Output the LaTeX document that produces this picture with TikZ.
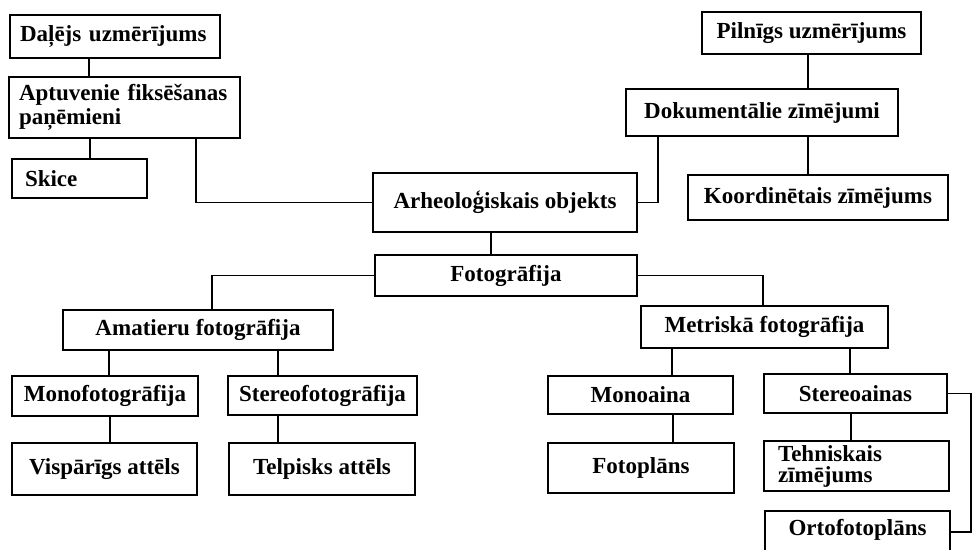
\documentclass[tikz,border=0pt]{standalone}
\usepackage{fontspec}
\setmainfont{Liberation Serif}
\begin{document}
\begin{tikzpicture}[x=1pt,y=-1pt,
  box/.style={draw, line width=1.6pt, inner sep=0pt, align=center,
    font=\bfseries\fontsize{23}{25}\selectfont},
  conn/.style={line width=1.1pt}]
\useasboundingbox (0,0) rectangle (973,549);
\clip (0,0) rectangle (973,549);
% left upper group
\node[box, minimum width=210pt, minimum height=43pt, text width=190pt, align=left] (dalejs) at (115,36.5) {Daļējs uzmērījums};
\node[box, minimum width=231pt, minimum height=61pt, text width=211pt, align=left,
  font=\bfseries\fontsize{23}{23.5}\selectfont] (aptuv) at (124.5,107.5) {Aptuvenie fiksēšanas\\paņēmieni};
\node[box, minimum width=135pt, minimum height=39pt, text width=109pt, align=left] (skice) at (79.5,178.5) {Skice};
% centre
\node[box, minimum width=264pt, minimum height=59pt] (arheo) at (505,202.5) {Arheoloģiskais objekts};
\node[box, minimum width=262pt, minimum height=41pt] (foto) at (506,275.5) {Fotogrāfija};
% right upper group
\node[box, minimum width=219pt, minimum height=42pt] (pilnigs) at (811.5,33) {Pilnīgs uzmērījums};
\node[box, minimum width=272pt, minimum height=47pt] (dokum) at (762,112.5) {Dokumentālie zīmējumi};
\node[box, minimum width=260pt, minimum height=45pt] (koord) at (818,197.5) {Koordinētais zīmējums};
% amateur branch
\node[box, minimum width=270pt, minimum height=40pt] (amat) at (198,330) {Amatieru fotogrāfija};
\node[box, minimum width=186pt, minimum height=40pt] (monofoto) at (105,396) {Monofotogrāfija};
\node[box, minimum width=189pt, minimum height=39pt] (stereofoto) at (322.5,395.5) {Stereofotogrāfija};
\node[box, minimum width=185pt, minimum height=52pt] (visp) at (104.5,469) {Vispārīgs attēls};
\node[box, minimum width=186pt, minimum height=52pt] (telp) at (322,469) {Telpisks attēls};
% metric branch
\node[box, minimum width=247pt, minimum height=42pt] (metr) at (764.5,327) {Metriskā fotogrāfija};
\node[box, minimum width=185pt, minimum height=38pt] (monoaina) at (640.5,395) {Monoaina};
\node[box, minimum width=183pt, minimum height=39pt] (stereoainas) at (855.5,393.5) {Stereoainas};
\node[box, minimum width=186pt, minimum height=50pt] (fotoplans) at (641,468) {Fotoplāns};
\node[box, minimum width=185pt, minimum height=50pt, text width=157pt, align=left,
  font=\bfseries\fontsize{23}{21}\selectfont] (tehn) at (856.5,466) {Tehniskais\\zīmējums};
\node[box, minimum width=185pt, minimum height=50pt, text depth=18pt] (orto) at (857.5,536) {Ortofotoplāns};
\coordinate (rx) at (971,0);
% connectors
\draw[conn] (89,0 |- dalejs.south) -- (89,0 |- aptuv.north);
\draw[conn] (90,0 |- aptuv.south) -- (90,0 |- skice.north);
\draw[conn] (196,0 |- aptuv.south) |- (arheo.west);
\draw[conn] (arheo.east) -| (658,0 |- dokum.south);
\draw[conn] (808,0 |- pilnigs.south) -- (808,0 |- dokum.north);
\draw[conn] (808,0 |- dokum.south) -- (808,0 |- koord.north);
\draw[conn] (491,0 |- arheo.south) -- (491,0 |- foto.north);
\draw[conn] (foto.west) -| (212,0 |- amat.north);
\draw[conn] (foto.east) -| (763,0 |- metr.north);
\draw[conn] (109,0 |- amat.south) -- (109,0 |- monofoto.north);
\draw[conn] (278,0 |- amat.south) -- (278,0 |- stereofoto.north);
\draw[conn] (110,0 |- monofoto.south) -- (110,0 |- visp.north);
\draw[conn] (278,0 |- stereofoto.south) -- (278,0 |- telp.north);
\draw[conn] (672,0 |- metr.south) -- (672,0 |- monoaina.north);
\draw[conn] (850,0 |- metr.south) -- (850,0 |- stereoainas.north);
\draw[conn] (673,0 |- monoaina.south) -- (673,0 |- fotoplans.north);
\draw[conn] (851,0 |- stereoainas.south) -- (851,0 |- tehn.north);
\draw[conn] (stereoainas.east) -- (stereoainas.east -| rx) |- ([yshift=4pt]orto.east);
\end{tikzpicture}
\end{document}
